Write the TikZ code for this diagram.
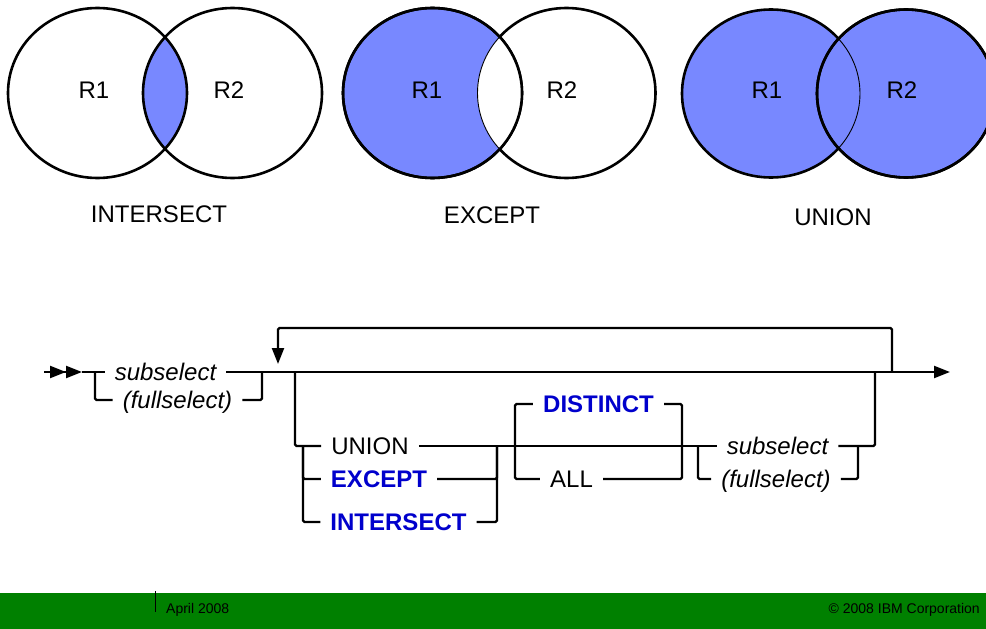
\documentclass[tikz,border=0pt]{standalone}
\usepackage{fontspec}
\setmainfont{Liberation Sans}
\usetikzlibrary{arrows.meta}
\definecolor{vennblue}{RGB}{120,136,255}
\definecolor{kwblue}{RGB}{0,0,204}
\definecolor{footgreen}{RGB}{0,128,0}
\begin{document}
\begin{tikzpicture}[x=1pt,y=-1pt,
  thickc/.style={line width=2.6pt},
  thinc/.style={line width=0.9pt},
  lbl/.style={font=\fontsize{24}{28}\selectfont, inner sep=0pt},
  syn/.style={line width=2.2pt, rounded corners=1.5pt},
  syntext/.style={font=\fontsize{24}{28}\selectfont, inner ysep=0pt, inner xsep=10pt, text height=17pt, text depth=0pt},
  var/.style={syntext, font=\fontsize{24}{28}\selectfont\itshape},
  kwd/.style={syntext, font=\fontsize{24}{28}\selectfont\bfseries, text=kwblue},
  foot/.style={font=\fontsize{14}{16}\selectfont, inner sep=0pt},
  synarr/.tip={Triangle[length=16pt,width=12pt]}
]
\useasboundingbox (0,0) rectangle (986,629);

% ---------- INTERSECT ----------
\begin{scope}
  \clip (97.5,93) ellipse [x radius=89.5pt, y radius=85pt];
  \fill[vennblue] (232.5,93) ellipse [x radius=89.5pt, y radius=85pt];
\end{scope}
\draw[thickc] (97.5,93) ellipse [x radius=89.5pt, y radius=85pt];
\draw[thickc] (232.5,93) ellipse [x radius=89.5pt, y radius=85pt];
\node[lbl] (i1) at (94,90) {R1};
\node[lbl] (i2) at (229,90) {R2};
\node[lbl] (il) at (159,214.5) {INTERSECT};

% ---------- EXCEPT ----------
\draw[thickc] (566.5,93) ellipse [x radius=89pt, y radius=85pt];
\filldraw[fill=vennblue, draw=black, thickc] (432.5,93) ellipse [x radius=89.5pt, y radius=85pt];
\begin{scope}
  \clip (432.5,93) ellipse [x radius=89.5pt, y radius=85pt];
  \fill[white] (566.5,93) ellipse [x radius=89pt, y radius=85pt];
  \draw[thinc] (566.5,93) ellipse [x radius=89pt, y radius=85pt];
\end{scope}
\draw[thickc] (432.5,93) ellipse [x radius=89.5pt, y radius=85pt];
\node[lbl] (e1) at (427,90) {R1};
\node[lbl] (e2) at (562,90) {R2};
\node[lbl] (el) at (492,215) {EXCEPT};

% ---------- UNION ----------
\filldraw[fill=vennblue, draw=black, thickc] (771,93.5) ellipse [x radius=89pt, y radius=84pt];
\filldraw[fill=vennblue, draw=black, thickc] (906,93.5) ellipse [x radius=89pt, y radius=84pt];
\begin{scope}
  \clip (906,93.5) ellipse [x radius=89pt, y radius=84pt];
  \draw[thinc] (771,93.5) ellipse [x radius=89pt, y radius=84pt];
\end{scope}
\draw[thickc] (906,93.5) ellipse [x radius=89pt, y radius=84pt];
\node[lbl] (u1) at (767,90) {R1};
\node[lbl] (u2) at (902,90) {R2};
\node[lbl] (ul) at (833,217.5) {UNION};

% ---------- syntax diagram ----------
\node[var] (sub1) at (165.5,372) {subselect};
\node[var] (full1) at (177.5,400) {(fullselect)};
\node[syntext] (union) at (370,446) {UNION};
\node[kwd] (except) at (379,479) {EXCEPT};
\node[kwd] (intersect) at (398.5,522) {INTERSECT};
\node[kwd] (distinct) at (598.5,404) {DISTINCT};
\node[syntext] (all) at (571.5,479) {ALL};
\node[var] (sub2) at (777.5,446) {subselect};
\node[var] (full2) at (776,479) {(fullselect)};

\coordinate (st0) at (44,372);
\coordinate (st1) at (82,372);
\coordinate (t1) at (95,372);
\coordinate (t2) at (262,372);
\coordinate (lpL) at (278,364);
\coordinate (lpR) at (892,372);
\coordinate (endp) at (950,372);
\coordinate (b1) at (295,372);
\coordinate (b2) at (303,446);
\coordinate (b3) at (497,446);
\coordinate (dl) at (515,446);
\coordinate (dr) at (682,446);
\coordinate (f1) at (698,446);
\coordinate (f2) at (858,446);
\coordinate (b4) at (875,372);

\draw[line width=2.2pt, -{synarr[] synarr[]}] (st0) -- (st1);
\draw[syn] (st1) -- (sub1.west);
\draw[syn] (t1) |- (full1.west);
\draw[line width=2.2pt, -{synarr[]}] (sub1.east) -- (endp);
\draw[syn] (full1.east) -| (t2);
\draw[syn, -{synarr[]}] (lpR) -- ++(0,-44) -| (lpL);
\draw[syn] (b1) |- (union.west);
\draw[syn] (b2) |- (except.west);
\draw[syn] (b2) |- (intersect.west);
\draw[syn] (union.east) -- (sub2.west);
\draw[syn] (except.east) -| (b3);
\draw[syn] (intersect.east) -| (b3);
\draw[syn] (distinct.west) -| (dl) |- (all.west);
\draw[syn] (distinct.east) -| (dr) |- (all.east);
\draw[syn] (f1) |- (full2.west);
\draw[syn] (sub2.east) -| (b4);
\draw[syn] (full2.east) -| (f2);

% ---------- footer ----------
\fill[footgreen] (0,593) rectangle (986,629);
\coordinate (tk0) at (155,591);
\coordinate (tk1) at (155,612);
\draw[line width=0.8pt] (tk0) -- (tk1);
\node[foot, anchor=base west] (date) at (166,613) {April 2008};
\node[foot, anchor=base east] (copy) at (980,613) {© 2008 IBM Corporation};
\end{tikzpicture}
\end{document}
